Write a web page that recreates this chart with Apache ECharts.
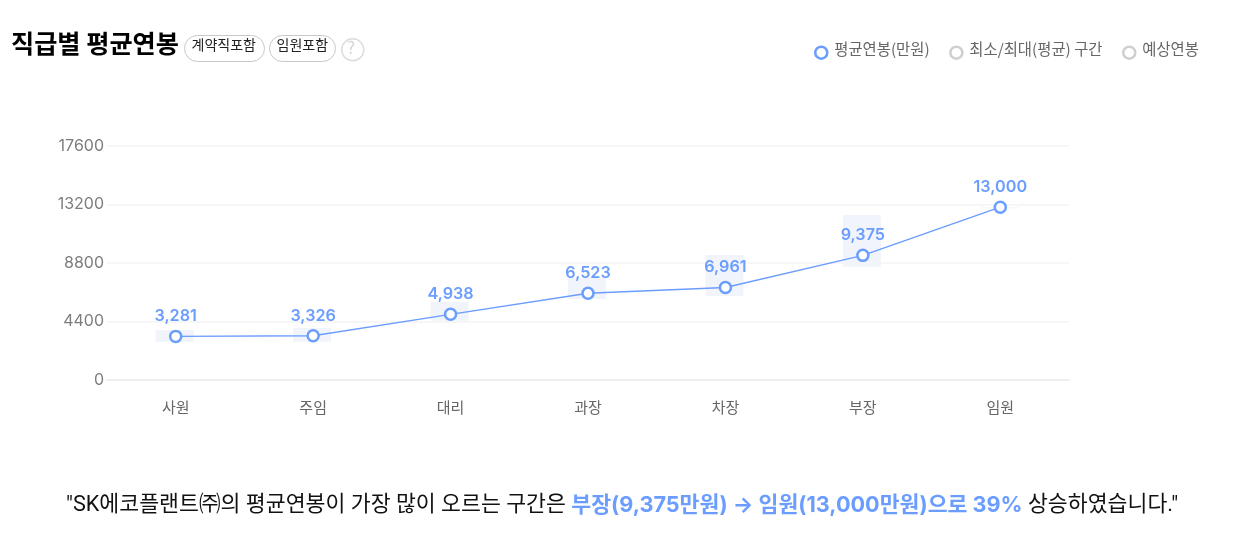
<!DOCTYPE html>
<html><head><meta charset="utf-8">
<style>html,body{margin:0;padding:0;background:#fff}#c{width:1237px;height:550px}</style>
<script src="https://cdn.jsdelivr.net/npm/echarts@6/dist/echarts.min.js"></script>
</head><body><div id="c"></div>
<script>
const categories = ['사원','주임','대리','과장','차장','부장','임원'];
const averagePay = [3281,3326,4938,6523,6961,9375,13000];
const bandMin = [2860,2880,4460,6090,6320,8520,13000];
const bandMax = [3760,3910,5890,7670,9400,12410,13000];
const yTicks = [0,4400,8800,13200,17600];
const titleText = '직급별 평균연봉';
const tagLabels = ['계약직포함','임원포함'];
const seriesNames = ['평균연봉(만원)','최소/최대(평균) 구간','예상연봉'];

const KR = "Inter,'Noto Sans CJK KR',sans-serif";
const CJK = "'Noto Sans CJK KR',sans-serif";
const chart = echarts.init(document.getElementById('c'), null, {renderer:'canvas'});

function pill(x, w, label){
  return [
    {type:'rect',left:x,top:35,shape:{width:w,height:26,r:13},style:{fill:'#fff',stroke:'#c8c8c8',lineWidth:1}},
    {type:'text',left:x+7.5,top:36,style:{text:label,font:"14px "+CJK,fill:'#222',lineHeight:18}}
  ];
}

chart.setOption({
  animation:false,
  backgroundColor:'#fff',
  textStyle:{fontFamily:KR},
  grid:{left:107,right:168,top:146,bottom:170},
  legend:{
    left:809,top:36,itemGap:19.5,itemWidth:12,itemHeight:12,
    formatter:'{t|{name}}',
    textStyle:{color:'#666',fontSize:15.4,fontFamily:CJK,
      rich:{t:{color:'#666',fontSize:15.4,fontFamily:CJK,padding:[0,0,8,2]}}},
    selectedMode:false,
    data:[
      {name:seriesNames[0],icon:'circle',itemStyle:{color:'#fff',borderColor:'#6b9dff',borderWidth:2.5}},
      {name:seriesNames[1],icon:'circle',itemStyle:{color:'#fff',borderColor:'#cfcfcf',borderWidth:2.5}},
      {name:seriesNames[2],icon:'circle',itemStyle:{color:'#fff',borderColor:'#cfcfcf',borderWidth:2.5}}
    ]
  },
  xAxis:{
    type:'category',data:categories,
    axisTick:{show:false},
    axisLine:{lineStyle:{color:'#ebebeb',width:1.5}},
    axisLabel:{color:'#666',fontSize:15,margin:20,fontFamily:CJK}
  },
  yAxis:{
    type:'value',min:0,max:17600,interval:4400,
    axisLine:{show:false},axisTick:{show:false},
    splitLine:{lineStyle:{color:'#f3f3f3',width:1.5}},
    axisLabel:{color:'#7d7d7d',fontSize:16,margin:3,fontFamily:KR,padding:[0,0,5,0],
      formatter:v=>yTicks.includes(v)?String(v):''}
  },
  series:[
    {
      name:seriesNames[1],type:'custom',z:1,
      data:categories.map((c,i)=>[i,bandMin[i],bandMax[i]]),
      encode:{x:0,y:[1,2]},
      itemStyle:{color:'#f1f4fa'},
      renderItem:(params,api)=>{
        const a=api.coord([api.value(0),api.value(1)]);
        const b=api.coord([api.value(0),api.value(2)]);
        const h=Math.max(a[1]-b[1],1);
        return {type:'rect',shape:{x:a[0]-20,y:b[1],width:38,height:h},style:{fill:'#f1f4fa'}};
      }
    },
    {
      name:seriesNames[0],type:'line',z:3,data:averagePay,
      symbol:'circle',symbolSize:11,showAllSymbol:true,
      lineStyle:{color:'#6b9dff',width:1.4},
      itemStyle:{color:'#fff',borderColor:'#6b9dff',borderWidth:2.5},
      label:{show:true,position:'top',distance:5,color:'#6b9dff',fontSize:16.2,fontWeight:600,fontFamily:KR,
        formatter:p=>p.value.toLocaleString('en-US')}
    },
    {name:seriesNames[2],type:'line',data:[],itemStyle:{color:'#cfcfcf'}}
  ],
  graphic:[
    {type:'text',left:11,top:31,style:{text:titleText,font:"700 25.2px "+CJK,fill:'#000'}},
    ...pill(184,80,tagLabels[0]),
    ...pill(269,66,tagLabels[1]),
    {type:'circle',left:341,top:38,shape:{r:11},style:{fill:'#fff',stroke:'#dcdcdc',lineWidth:1.5}},
    {type:'text',left:347,top:39,style:{text:'?',font:"17px "+CJK,fill:'#d6d6d6'}},
    {type:'text',left:66,top:495,style:{
      rich:{
        a:{fontSize:21.65,fontFamily:"Roboto,'Noto Sans CJK KR',sans-serif",color:'#111',fill:'#111'},
        b:{fontSize:21.65,fontWeight:700,fontFamily:KR,color:'#6b9dff',fill:'#6b9dff'}
      },
      text:'{a|"SK에코플랜트㈜의 평균연봉이 가장 많이 오르는 구간은 }{b|부장(9,375만원) → 임원(13,000만원)으로 39%}{a| 상승하였습니다."}'
    }}
  ]
});
</script></body></html>
